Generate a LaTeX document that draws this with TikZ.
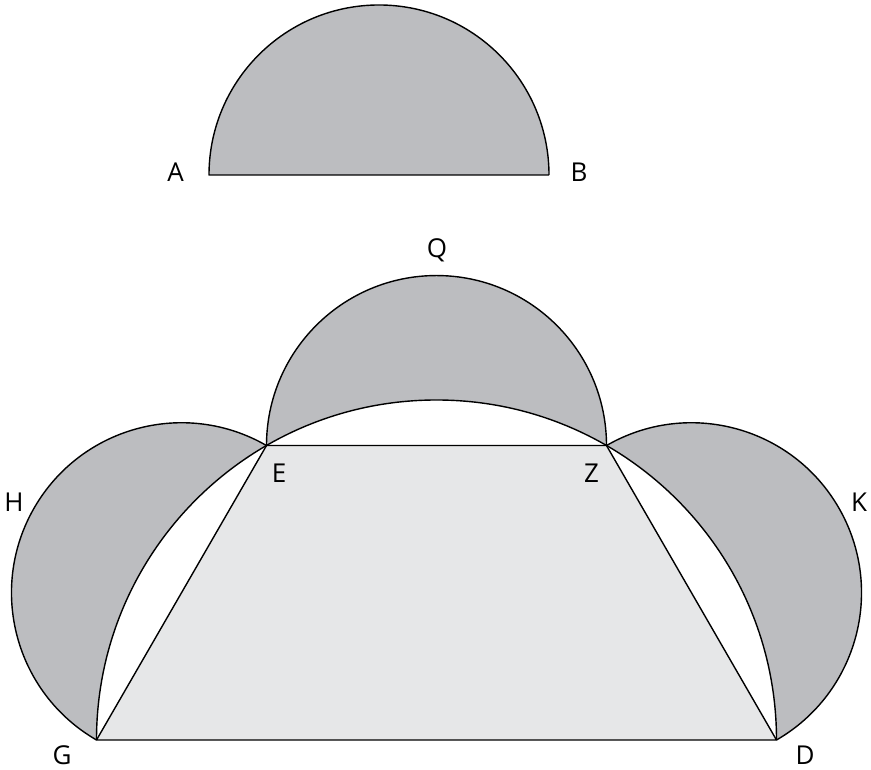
\documentclass[tikz,border=0pt]{standalone}
\usepackage{fontspec}
\setmainfont{Open Sans}
\usetikzlibrary{calc}
\definecolor{lune}{HTML}{BCBDC0}
\definecolor{trap}{HTML}{E6E7E8}
\begin{document}
\begin{tikzpicture}[x=1pt,y=1pt,
  edge/.style={draw=black,line width=1.4pt,line join=round},
  lbl/.style={font=\fontsize{26}{30}\selectfont,inner sep=0pt,anchor=center}]
\useasboundingbox (0,0) rectangle (871,770);
% key points (y up)
\coordinate (O) at (436.5,30);
\coordinate (G) at (96.5,30);
\coordinate (D) at (776.5,30);
\coordinate (E) at ($(O)+(120:340)$);
\coordinate (Z) at ($(O)+(60:340)$);
\coordinate (A) at (209,595);
\coordinate (B) at (549,595);
% top semicircle
\fill[lune] (A) arc[start angle=180,end angle=0,radius=170] -- cycle;
\draw[edge] (B) -- (A) arc[start angle=180,end angle=0,radius=170];
% lunes
\fill[lune] (Z) arc[start angle=0,end angle=180,radius=170] -- cycle;
\fill[lune] (E) arc[start angle=60,end angle=240,radius=170] -- cycle;
\fill[lune] (D) arc[start angle=-60,end angle=120,radius=170] -- cycle;
\fill[white] (D) arc[start angle=0,end angle=180,radius=340] -- cycle;
\fill[trap] (G) -- (D) -- (Z) -- (E) -- cycle;
% outlines
\draw[edge] (Z) arc[start angle=0,end angle=180,radius=170];
\draw[edge] (E) arc[start angle=60,end angle=240,radius=170];
\draw[edge] (D) arc[start angle=-60,end angle=120,radius=170];
\draw[edge] (D) arc[start angle=0,end angle=180,radius=340];
\draw[edge] (G) -- (D) -- (Z) -- (E) -- cycle;
% labels
\node[lbl] (lA) at (175.5,598) {A};
\node[lbl] (lB) at (579,598) {B};
\node[lbl] (lQ) at (437,520) {Q};
\node[lbl] (lH) at (14,268) {H};
\node[lbl] (lE) at (279,297) {E};
\node[lbl] (lZ) at (591.5,297) {Z};
\node[lbl] (lK) at (859,268) {K};
\node[lbl] (lG) at (62,15) {G};
\node[lbl] (lD) at (805,15) {D};
\end{tikzpicture}
\end{document}
